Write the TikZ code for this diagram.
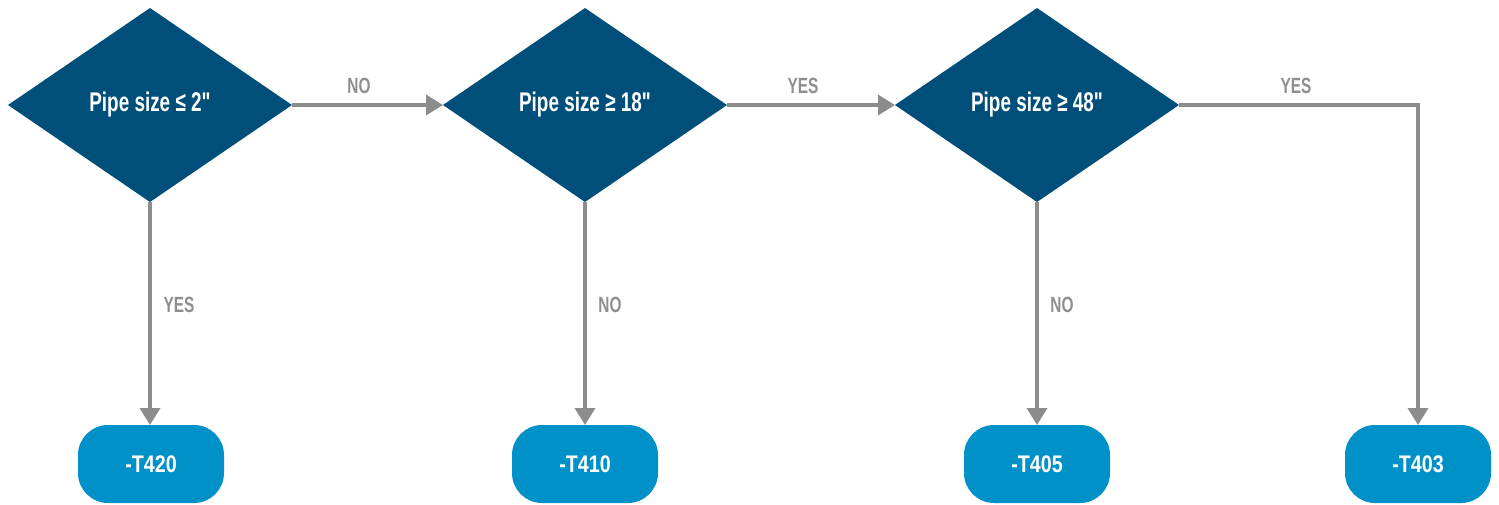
\documentclass[tikz,border=0pt]{standalone}
\usepackage{fontspec}
\setmainfont{Liberation Sans}[FakeStretch=0.7,Ligatures=TeXOff]
\newfontfamily\pillfont{Liberation Sans}[FakeStretch=0.82]
\usetikzlibrary{shapes.geometric,arrows.meta}
\definecolor{dblue}{HTML}{004E7A}
\definecolor{lblue}{HTML}{0091C8}
\definecolor{lgray}{HTML}{8C8C8C}
\definecolor{tgray}{HTML}{8E8E8E}
\begin{document}
\begin{tikzpicture}[x=1pt,y=-1pt,
  decision/.style={diamond,fill=dblue,draw=none,inner sep=0pt,outer sep=0pt,
    minimum width=284pt,minimum height=194pt,text=white,
    font=\fontsize{27}{30}\selectfont\bfseries},
  terminal/.style={rectangle,rounded corners=30pt,fill=lblue,draw=none,outer sep=0pt,
    minimum width=146pt,minimum height=78pt,text=white,
    font=\pillfont\fontsize{24}{26}\selectfont\bfseries},
  flow/.style={draw=lgray,line width=3.6pt,-{Triangle[length=17pt,width=20pt]}},
  lbl/.style={text=tgray,font=\fontsize{22}{24}\selectfont\bfseries,inner sep=0pt}]
\useasboundingbox (0,0) rectangle (1499,504);
\node[decision] (d1) at (150,105) {Pipe size ≤ 2"};
\node[decision] (d2) at (585,105) {Pipe size ≥ 18"};
\node[decision] (d3) at (1037,105) {Pipe size ≥ 48"};
\node[terminal] (t1) at (151,464) {-T420};
\node[terminal] (t2) at (585,464) {-T410};
\node[terminal] (t3) at (1037,464) {-T405};
\node[terminal] (t4) at (1418,464) {-T403};
\draw[flow] (d1.east) -- (d2.west);
\draw[flow] (d2.east) -- (d3.west);
\draw[flow] (d3.east) -| (t4.north);
\draw[flow] (d1.south) -- (d1.south |- t1.north);
\draw[flow] (d2.south) -- (t2.north);
\draw[flow] (d3.south) -- (t3.north);
\node[lbl] (l1) at (359,86) {NO};
\node[lbl] (l2) at (803,86) {YES};
\node[lbl] (l3) at (1296,86) {YES};
\node[lbl] (l4) at (179,305) {YES};
\node[lbl] (l5) at (610,305) {NO};
\node[lbl] (l6) at (1062,305) {NO};
\end{tikzpicture}
\end{document}
